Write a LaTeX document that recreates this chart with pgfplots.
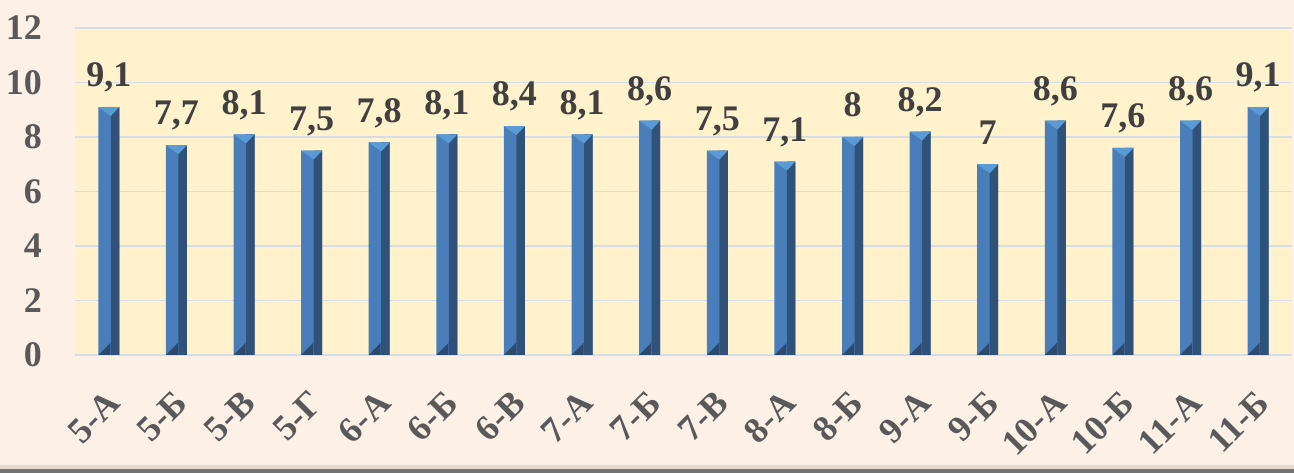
\documentclass[border=0pt]{standalone}
\usepackage{pgfplots}
\pgfplotsset{compat=1.18}
\usepackage{fontspec}
\setmainfont{Liberation Serif}
\definecolor{outerbg}{HTML}{FDF0E6}
\definecolor{plotbg}{HTML}{FFF2CC}
\definecolor{gridc}{HTML}{D8DCE4}
\definecolor{barL}{HTML}{4A7EBB}
\definecolor{barR}{HTML}{30527A}
\definecolor{barTop}{HTML}{5B9BD5}
\definecolor{barBot}{HTML}{2C4A6E}
\definecolor{txt}{HTML}{404040}
\definecolor{tickc}{HTML}{595959}
\pgfdeclareplotmark{bevtop}{%
  \pgfpathmoveto{\pgfpoint{-10.5pt}{0pt}}%
  \pgfpathlineto{\pgfpoint{10.5pt}{0pt}}%
  \pgfpathlineto{\pgfpoint{2pt}{-9pt}}%
  \pgfpathclose\pgfusepathqfill}
\pgfdeclareplotmark{bevbot}{%
  \pgfpathmoveto{\pgfpoint{-10.5pt}{0pt}}%
  \pgfpathlineto{\pgfpoint{1.5pt}{0pt}}%
  \pgfpathlineto{\pgfpoint{1.5pt}{12pt}}%
  \pgfpathclose\pgfusepathqfill}
\pgfplotstableread{
x v
0 9.1
1 7.7
2 8.1
3 7.5
4 7.8
5 8.1
6 8.4
7 8.1
8 8.6
9 7.5
10 7.1
11 8
12 8.2
13 7
14 8.6
15 7.6
16 8.6
17 9.1
}\datatable
\pgfplotstableread{
x v
0 0
1 0
2 0
3 0
4 0
5 0
6 0
7 0
8 0
9 0
10 0
11 0
12 0
13 0
14 0
15 0
16 0
17 0
}\basetable
\begin{document}
\begin{tikzpicture}[x=1pt,y=1pt]
\fill[outerbg] (-75,-118) rectangle (1219,355);
\fill[outerbg!80!gray] (-75,-118) rectangle (1219,-110);
\fill[black!55] (-75,-118) rectangle (1219,-114);
\begin{axis}[at={(0,0)}, anchor=south west, scale only axis,
  width=1217pt, height=327pt,
  xmin=-0.5, xmax=17.5, ymin=0, ymax=12,
  ytick={0,2,...,12},
  xtick={0,...,17},
  xticklabels={5-А,5-Б,5-В,5-Г,6-А,6-Б,6-В,7-А,7-Б,7-В,8-А,8-Б,9-А,9-Б,10-А,10-Б,11-А,11-Б},
  /pgf/number format/assume math mode=true,
  axis background/.style={fill=plotbg},
  axis line style={draw=none},
  ymajorgrids, grid style={gridc, line width=1.5pt},
  major tick length=0pt,
  tick label style={font=\fontsize{36}{36}\selectfont\bfseries, text=tickc},
  yticklabel style={anchor=east, inner sep=0pt, xshift=-33pt},
  xticklabel style={xshift=5pt, yshift=-42pt, rotate=45, anchor=east, inner sep=0pt},
  clip=false,
]
\addplot[ybar, bar width=21pt, bar shift=0pt, fill=barL, draw=none,
  nodes near coords,
  nodes near coords style={font=\fontsize{36}{36}\selectfont\bfseries, text=txt,
    anchor=south, inner sep=0pt, text depth=0pt, yshift=20pt,
    /pgf/number format/.cd, fixed, use comma, precision=1, assume math mode=true}]
  table[x=x,y=v]{\datatable};
\addplot[ybar, bar width=8.5pt, bar shift=6.25pt, fill=barR, draw=none]
  table[x=x,y=v]{\datatable};
\addplot[only marks, mark=bevtop, mark options={fill=barTop, draw=none}]
  table[x=x,y=v]{\datatable};
\addplot[only marks, mark=bevbot, mark options={fill=barBot, draw=none}]
  table[x=x,y=v]{\basetable};
\end{axis}
\end{tikzpicture}
\end{document}
